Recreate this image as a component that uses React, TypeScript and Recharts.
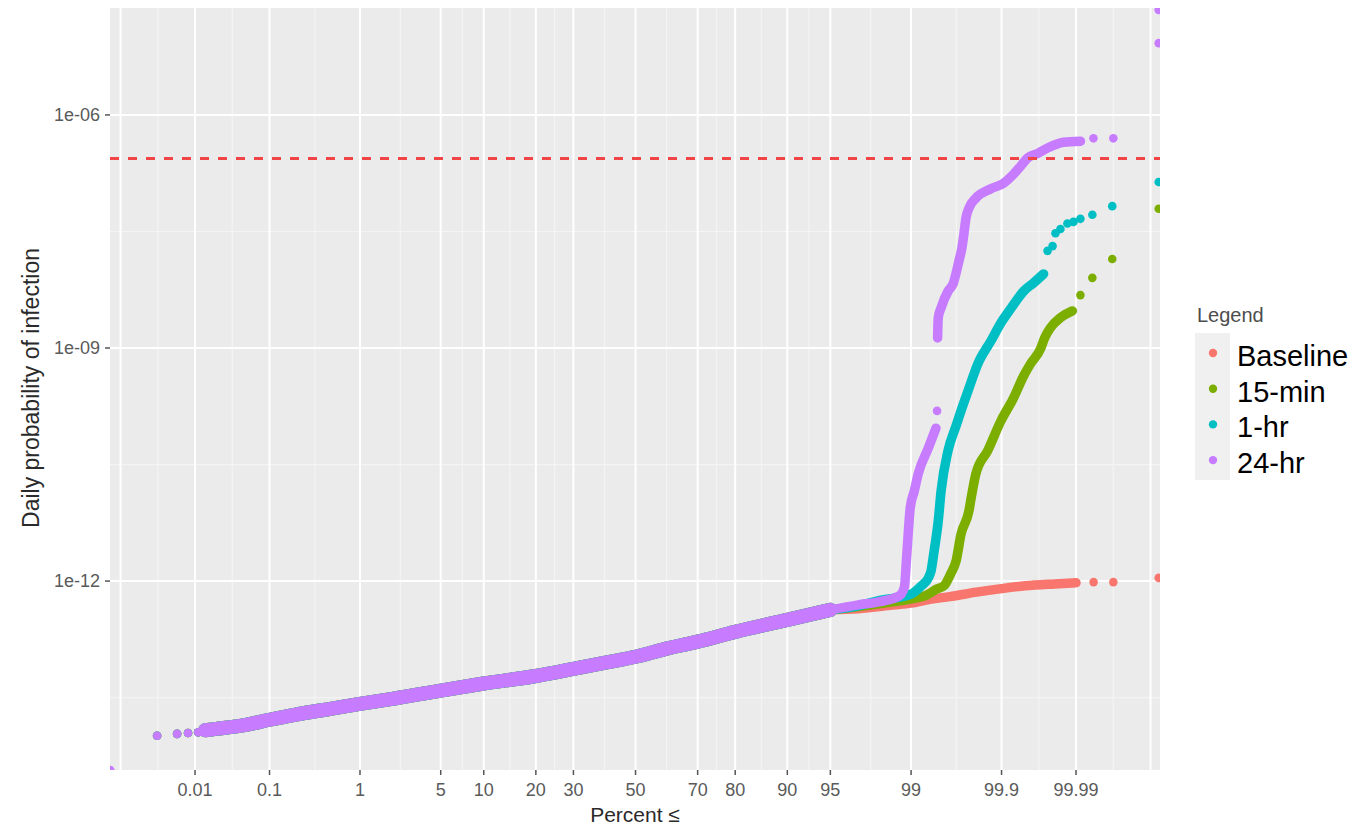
import React from 'react';
import { ScatterChart, Scatter, XAxis, YAxis, CartesianGrid, ReferenceLine } from 'recharts';

// ---------- series / legend ----------
const seriesNames = ['Baseline', '15-min', '1-hr', '24-hr'];
const seriesColors = ['#F8766D', '#7CAE00', '#00BFC4', '#C77CFF'];

// ---------- axis ticks ----------
const xTickPercents = [0.01, 0.1, 1, 5, 10, 20, 30, 50, 70, 80, 90, 95, 99, 99.9, 99.99];
const yTickValues = [1e-6, 1e-9, 1e-12];
const yTickLabels = ['1e-06', '1e-09', '1e-12'];

// dashed threshold line (daily probability)
const thresholdValue = 2.74e-7;

// ---------- data (percent ≤, daily probability of infection) ----------
// first few isolated points, shared by all series
const leadPercent = [0.00268, 0.00543, 0.0079, 0.0111];
const leadValue = [1.02e-14, 1.08e-14, 1.11e-14, 1.13e-14];

// common dense trunk, shared by all series
const trunkPercent = [0.014, 0.02, 0.05, 0.1, 0.2, 0.5, 1, 2, 5, 10, 20, 30, 40, 50, 60, 70, 80, 90, 95];
const trunkValue = [1.2e-14, 1.25e-14, 1.41e-14, 1.64e-14, 1.9e-14, 2.27e-14, 2.63e-14, 3.04e-14, 3.9e-14, 4.8e-14, 6.0e-14, 7.4e-14, 8.9e-14, 1.06e-13, 1.34e-13, 1.66e-13, 2.22e-13, 3.17e-13, 4.26e-13];

// Baseline
const baselineTailPercent = [95, 97, 98.5, 99, 99.4, 99.6, 99.8, 99.9, 99.95, 99.98, 99.99];
const baselineTailValue = [4.26e-13, 4.4e-13, 4.9e-13, 5.2e-13, 5.9e-13, 6.3e-13, 7.2e-13, 8.0e-13, 8.7e-13, 9.2e-13, 9.5e-13];
const baselineSparsePercent = [99.9945, 99.99726, 99.9995];
const baselineSparseValue = [9.7e-13, 9.7e-13, 1.1e-12];

// 15-min
const min15TailPercent = [95, 97, 98, 99, 99.3, 99.45, 99.54, 99.61, 99.66, 99.7, 99.756, 99.77, 99.797, 99.853, 99.898, 99.9296, 99.9476, 99.9575, 99.9687, 99.9724, 99.977, 99.9833, 99.9887];
const min15TailValue = [4.26e-13, 4.7e-13, 5.1e-13, 5.9e-13, 6.6e-13, 7.9e-13, 8.7e-13, 1.24e-12, 1.82e-12, 4.0e-12, 8.0e-12, 1.18e-11, 2.4e-11, 4.8e-11, 1.15e-10, 2.3e-10, 4.4e-10, 6.3e-10, 9.8e-10, 1.35e-9, 1.82e-9, 2.45e-9, 3.0e-9];
const min15SparsePercent = [99.99137, 99.99426, 99.99715, 99.9995];
const min15SparseValue = [4.8e-9, 8.0e-9, 1.4e-8, 6.2e-8];

// 1-hr
const hr1TailPercent = [95, 97, 98, 99, 99.21, 99.33, 99.37, 99.415, 99.47, 99.506, 99.584, 99.66, 99.7, 99.75, 99.808, 99.865, 99.898, 99.923, 99.9476, 99.9612, 99.9715];
const hr1TailValue = [4.26e-13, 4.8e-13, 5.6e-13, 6.8e-13, 8.7e-13, 1.1e-12, 1.35e-12, 2.45e-12, 5.9e-12, 1.45e-11, 4.8e-11, 1.0e-10, 1.55e-10, 2.8e-10, 6.3e-10, 1.23e-9, 2.1e-9, 3.2e-9, 5.4e-9, 6.9e-9, 9.0e-9];
const hr1SparsePercent = [99.9748, 99.9785, 99.9804, 99.9833, 99.9867, 99.9891, 99.99137, 99.99426, 99.99715, 99.9995];
const hr1SparseValue = [1.78e-8, 2.05e-8, 3.0e-8, 3.4e-8, 4.0e-8, 4.2e-8, 4.6e-8, 5.2e-8, 6.7e-8, 1.37e-7];

// 24-hr
const hr24TailAPercent = [95, 97, 98, 98.7, 98.84, 98.89, 98.93, 98.98, 99.07, 99.15, 99.33, 99.44];
const hr24TailAValue = [4.26e-13, 4.94e-13, 5.4e-13, 6.45e-13, 8.4e-13, 1.82e-12, 3.8e-12, 8.7e-12, 1.44e-11, 2.4e-11, 5.2e-11, 9.3e-11];
const hr24TailBPercent = [99.462, 99.47, 99.506, 99.584, 99.633, 99.684, 99.707, 99.722, 99.736, 99.756, 99.797, 99.865, 99.906, 99.9296, 99.9427, 99.9535, 99.9657, 99.9748, 99.9849, 99.9914];
const hr24TailBValue = [1.35e-9, 2.44e-9, 3.3e-9, 5.4e-9, 6.7e-9, 1.32e-8, 1.94e-8, 2.95e-8, 4.7e-8, 6.3e-8, 8.5e-8, 1.12e-7, 1.33e-7, 1.74e-7, 2.2e-7, 2.8e-7, 3.2e-7, 3.76e-7, 4.45e-7, 4.6e-7];
const hr24SparsePercent = [0.00046, 99.455, 99.99447, 99.99726, 99.9995, 99.9995];
const hr24SparseValue = [3.7e-15, 1.55e-10, 5.0e-7, 5.0e-7, 8.4e-6, 2.25e-5];

// ---------- helpers ----------
// inverse standard normal CDF (probability axis transform)
function qnorm(p: number): number {
  const a = [-3.969683028665376e1, 2.209460984245205e2, -2.759285104469687e2, 1.38357751867269e2, -3.066479806614716e1, 2.506628277459239];
  const b = [-5.447609879822406e1, 1.615858368580409e2, -1.556989798598866e2, 6.680131188771972e1, -1.328068155288572e1];
  const c = [-7.784894002430293e-3, -3.223964580411365e-1, -2.400758277161838, -2.549732539343734, 4.374664141464968, 2.938163982698783];
  const d = [7.784695709041462e-3, 3.224671290700398e-1, 2.445134137142996, 3.754408661907416];
  const pl = 0.02425;
  if (p < pl) {
    const q = Math.sqrt(-2 * Math.log(p));
    return (((((c[0] * q + c[1]) * q + c[2]) * q + c[3]) * q + c[4]) * q + c[5]) / ((((d[0] * q + d[1]) * q + d[2]) * q + d[3]) * q + 1);
  }
  if (p <= 1 - pl) {
    const q = p - 0.5;
    const r = q * q;
    return ((((((a[0] * r + a[1]) * r + a[2]) * r + a[3]) * r + a[4]) * r + a[5]) * q) / (((((b[0] * r + b[1]) * r + b[2]) * r + b[3]) * r + b[4]) * r + 1);
  }
  const q = Math.sqrt(-2 * Math.log(1 - p));
  return -(((((c[0] * q + c[1]) * q + c[2]) * q + c[3]) * q + c[4]) * q + c[5]) / ((((d[0] * q + d[1]) * q + d[2]) * q + d[3]) * q + 1);
}

const toPoints = (ps: number[], vs: number[]) => ps.map((p, i) => ({ x: qnorm(p / 100), y: vs[i] }));

const FONT = '"Liberation Sans", Arial, Helvetica, sans-serif';
const W = 1355;
const H = 820;
const X_DOMAIN: [number, number] = [-4.437, 4.428];
const Y_DOMAIN: [number, number] = [3.7e-15, 2.38e-5];

const xTicks = xTickPercents.map((p) => qnorm(p / 100));
const xExt = [2 * xTicks[0] - xTicks[1], ...xTicks, 2 * xTicks[xTicks.length - 1] - xTicks[xTicks.length - 2]];
const xMinor = xExt.slice(1).map((v, i) => (v + xExt[i]) / 2);
const yExt = [1e-3, ...yTickValues, 1e-15];
const yMinor = yExt.slice(1).map((v, i) => Math.sqrt(v * yExt[i]));

const fmtX = (v: number) => {
  let best = 0;
  xTicks.forEach((t, i) => {
    if (Math.abs(t - v) < Math.abs(xTicks[best] - v)) best = i;
  });
  return String(xTickPercents[best]);
};
const fmtY = (v: number) => {
  let best = 0;
  yTickValues.forEach((t, i) => {
    if (Math.abs(Math.log10(t) - Math.log10(v)) < Math.abs(Math.log10(yTickValues[best]) - Math.log10(v))) best = i;
  });
  return yTickLabels[best];
};

const dotShape = (color: string, r: number) => (p: any) => {
  if (p == null || p.cx == null || p.cy == null) return <g />;
  return <circle cx={p.cx} cy={p.cy} r={r} fill={color} />;
};

type Seg = { key: string; data: { x: number; y: number }[]; color: string; width: number };

const tails: { [k: number]: [number[], number[]][] } = {
  0: [[baselineTailPercent, baselineTailValue]],
  1: [[min15TailPercent, min15TailValue]],
  2: [[hr1TailPercent, hr1TailValue]],
  3: [[hr24TailAPercent, hr24TailAValue], [hr24TailBPercent, hr24TailBValue]],
};
const sparses: [number[], number[]][] = [
  [baselineSparsePercent, baselineSparseValue],
  [min15SparsePercent, min15SparseValue],
  [hr1SparsePercent, hr1SparseValue],
  [hr24SparsePercent, hr24SparseValue],
];

// draw order: series by series (Baseline first, 24-hr last)
const ordered: Seg[] = [];
seriesNames.forEach((name, si) => {
  const color = seriesColors[si];
  ordered.push({ key: name + '-trunk', data: toPoints(trunkPercent, trunkValue), color, width: 14 });
  tails[si].forEach(([ps, vs], ti) => {
    ordered.push({ key: name + '-tail' + ti, data: toPoints(ps, vs), color, width: 9.5 });
  });
  ordered.push({ key: name + '-lead', data: toPoints(leadPercent, leadValue), color, width: 0 });
  ordered.push({ key: name + '-sparse', data: toPoints(sparses[si][0], sparses[si][1]), color, width: 0 });
});

export default function App() {
  return (
    <div style={{ position: 'relative', width: W, height: H, fontFamily: FONT }}>
      <ScatterChart width={W} height={H} margin={{ top: 0, right: 203, bottom: 18, left: 22 }}>
        <CartesianGrid fill="#EBEBEB" horizontal={false} vertical={false} stroke="none" />
        {xMinor.map((v, i) => (
          <ReferenceLine key={'xm' + i} x={v} stroke="#F4F4F4" strokeWidth={1.2} />
        ))}
        {yMinor.map((v, i) => (
          <ReferenceLine key={'ym' + i} y={v} stroke="#F4F4F4" strokeWidth={1.2} />
        ))}
        {xExt.map((v, i) => (
          <ReferenceLine key={'xM' + i} x={v} stroke="#FFFFFF" strokeWidth={2} />
        ))}
        {yTickValues.map((v, i) => (
          <ReferenceLine key={'yM' + i} y={v} stroke="#FFFFFF" strokeWidth={2} />
        ))}
        <XAxis
          type="number"
          dataKey="x"
          domain={X_DOMAIN}
          allowDataOverflow
          ticks={xTicks}
          interval={0}
          tickFormatter={fmtX}
          axisLine={false}
          tickLine={{ stroke: '#555', strokeWidth: 1.5 }}
          tickSize={5}
          tickMargin={8}
          height={40}
          tick={{ fontSize: 18, fill: '#5a5a5a', fontFamily: FONT }}
        />
        <YAxis
          type="number"
          dataKey="y"
          scale="log"
          domain={Y_DOMAIN}
          allowDataOverflow
          ticks={yTickValues}
          interval={0}
          tickFormatter={fmtY}
          axisLine={false}
          tickLine={{ stroke: '#555', strokeWidth: 1.5 }}
          tickSize={5}
          tickMargin={5}
          width={80}
          tick={{ fontSize: 18, fill: '#5a5a5a', fontFamily: FONT }}
        />
        {ordered.map((s) =>
          s.width > 0 ? (
            <Scatter
              key={s.key}
              name={s.key}
              data={s.data}
              fill={s.color}
              isAnimationActive={false}
              shape={dotShape(s.color, 3.6)}
              lineJointType="monotoneX"
              line={{ stroke: s.color, strokeWidth: s.width, strokeLinecap: 'round', strokeLinejoin: 'round', fill: 'none' }}
            />
          ) : (
            <Scatter
              key={s.key}
              name={s.key}
              data={s.data}
              fill={s.color}
              isAnimationActive={false}
              shape={dotShape(s.color, 4.3)}
            />
          )
        )}
        <ReferenceLine y={thresholdValue} stroke="#F04447" strokeWidth={3} strokeDasharray="9 9" {...({ zIndex: 700 } as any)} />
      </ScatterChart>
      <svg width={W} height={H} style={{ position: 'absolute', left: 0, top: 0, pointerEvents: 'none' }}>
        <text x={627} y={814} textAnchor="middle" fontSize={21} fill="#2a2a2a" fontFamily={FONT}>
          Percent ≤
        </text>
        <text transform="translate(31,380) rotate(-90)" textAnchor="middle" fontSize={23} fill="#2a2a2a" fontFamily={FONT}>
          Daily probability of infection
        </text>
        <text x={1189} y={314} fontSize={20} fill="#4d4d4d" fontFamily={FONT}>
          Legend
        </text>
        <rect x={1187} y={325} width={35} height={147} fill="#F0F0F0" />
        {seriesNames.map((n, i) => (
          <g key={n}>
            <circle cx={1205} cy={345 + i * 35.7} r={4.2} fill={seriesColors[i]} />
            <text x={1229} y={358 + i * 35.7} fontSize={29} fill="#000" fontFamily={FONT}>
              {n}
            </text>
          </g>
        ))}
      </svg>
    </div>
  );
}
